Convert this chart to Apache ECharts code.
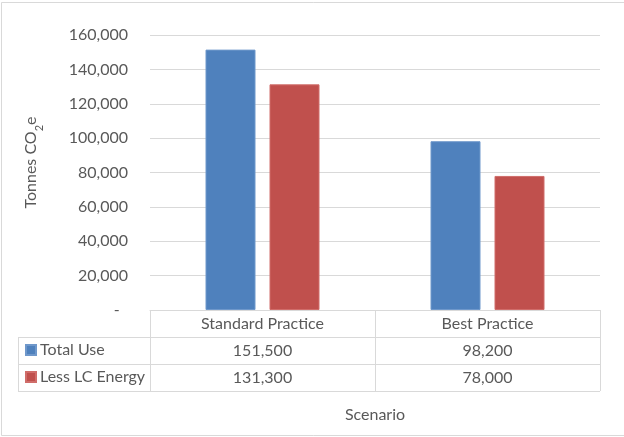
<!DOCTYPE html>
<html>
<head>
<meta charset="utf-8">
<script src="https://cdn.jsdelivr.net/npm/echarts@6/dist/echarts.min.js"></script>
<style>
  html, body { margin: 0; padding: 0; background: #ffffff; }
  #chart { width: 624px; height: 437px; }
</style>
</head>
<body>
<div id="chart"></div>
<script>
// Scenario emissions data
const categories = ['Standard Practice', 'Best Practice'];
const seriesNames = ['Total Use', 'Less LC Energy'];
const totalUse = [151500, 98200];
const lessLcEnergy = [131300, 78000];
const yMin = 0;
const yMax = 160000;
const yStep = 20000;

const FONT = 'Lato';
const TEXT = '#595959';
const LINE = '#d9d9d9';
const BLUE = '#4f81bd';
const RED = '#c0504d';
const fmt = v => v.toLocaleString('en-US');

const gridLeft = 150, gridRight = 24, gridTop = 35, gridBottom = 127;
const W = 624, H = 437;
const axisY = H - gridBottom;     // baseline of plot / top of data table
const rowH = 27;                   // data table row height
const tableLeft = 18;
const tableRight = W - gridRight;

const chart = echarts.init(document.getElementById('chart'), null, { renderer: 'canvas' });

const option = {
  animation: false,
  backgroundColor: '#ffffff',
  textStyle: { fontFamily: FONT },
  grid: { left: gridLeft, right: gridRight, top: gridTop, bottom: gridBottom, containLabel: false },
  legend: {
    orient: 'vertical',
    left: 25,
    top: axisY + rowH + 5,
    padding: 0,
    itemWidth: 10,
    itemHeight: 10,
    itemGap: 11,
    icon: 'rect',
    data: seriesNames,
    textStyle: { color: TEXT, fontSize: 16, fontFamily: FONT, lineHeight: 16, padding: [0, 0, 0, -1] },
    selectedMode: false
  },
  xAxis: {
    type: 'category',
    data: categories,
    boundaryGap: true,
    axisLine: { show: true, lineStyle: { color: LINE, width: 1 } },
    axisTick: { show: true, interval: 0, length: rowH * 3, lineStyle: { color: LINE, width: 1 } },
    axisLabel: { color: TEXT, fontSize: 16, fontFamily: FONT, margin: 6, interval: 0 },
    name: 'Scenario',
    nameLocation: 'middle',
    nameGap: 97,
    nameTextStyle: { color: TEXT, fontSize: 16, fontFamily: FONT }
  },
  yAxis: {
    type: 'value',
    min: yMin,
    max: yMax,
    interval: yStep,
    axisLine: { show: false },
    axisTick: { show: false },
    splitLine: { lineStyle: { color: LINE, width: 1 } },
    axisLabel: {
      color: TEXT, fontSize: 16, fontFamily: FONT, margin: 22,
      formatter: v => (v === 0 ? '-  ' : fmt(v))
    },
    name: '{a|Tonnes CO}{s|2}{a|e}',
    nameLocation: 'middle',
    nameGap: 105,
    nameRotate: 90,
    nameTextStyle: {
      color: TEXT,
      padding: [0, 0, 0, 20],
      rich: {
        a: { fontSize: 16, fontFamily: FONT, color: TEXT, lineHeight: 22, verticalAlign: 'top' },
        s: { fontSize: 11, fontFamily: FONT, color: TEXT, lineHeight: 12, verticalAlign: 'bottom' }
      }
    }
  },
  series: [
    {
      name: seriesNames[0], type: 'bar', data: totalUse,
      barWidth: 50, barGap: '28%',
      itemStyle: { color: BLUE, borderColor: '#6f98cb', borderWidth: 1 }
    },
    {
      name: seriesNames[1], type: 'bar', data: lessLcEnergy,
      barWidth: 50, barGap: '28%',
      itemStyle: { color: RED, borderColor: '#d06d6a', borderWidth: 1 }
    }
  ]
};

chart.setOption(option);

// Data table body: row rules, left border, and value cells under each category
const graphics = [];
[1, 2, 3].forEach(r => {
  const y = axisY + rowH * r + 0.5;
  graphics.push({
    type: 'line', silent: true,
    shape: { x1: tableLeft, y1: y, x2: tableRight, y2: y },
    style: { stroke: LINE, lineWidth: 1 }
  });
});
graphics.push({
  type: 'line', silent: true,
  shape: { x1: tableLeft + 0.5, y1: axisY + rowH, x2: tableLeft + 0.5, y2: axisY + rowH * 3 },
  style: { stroke: LINE, lineWidth: 1 }
});
[totalUse, lessLcEnergy].forEach((vals, r) => {
  vals.forEach((v, i) => {
    const x = chart.convertToPixel({ xAxisIndex: 0 }, i);
    graphics.push({
      type: 'text', silent: true,
      x: x, y: axisY + rowH * (r + 1) + rowH / 2 + 0.5,
      style: {
        text: fmt(v), fill: TEXT, font: '16px ' + FONT,
        textAlign: 'center', textVerticalAlign: 'middle'
      }
    });
  });
});
// chart frame
graphics.push({
  type: 'rect', silent: true,
  shape: { x: 1.5, y: 2.5, width: W + 10, height: H - 4 },
  style: { fill: 'none', stroke: LINE, lineWidth: 1 }
});

chart.setOption({ graphic: graphics });
</script>
</body>
</html>
